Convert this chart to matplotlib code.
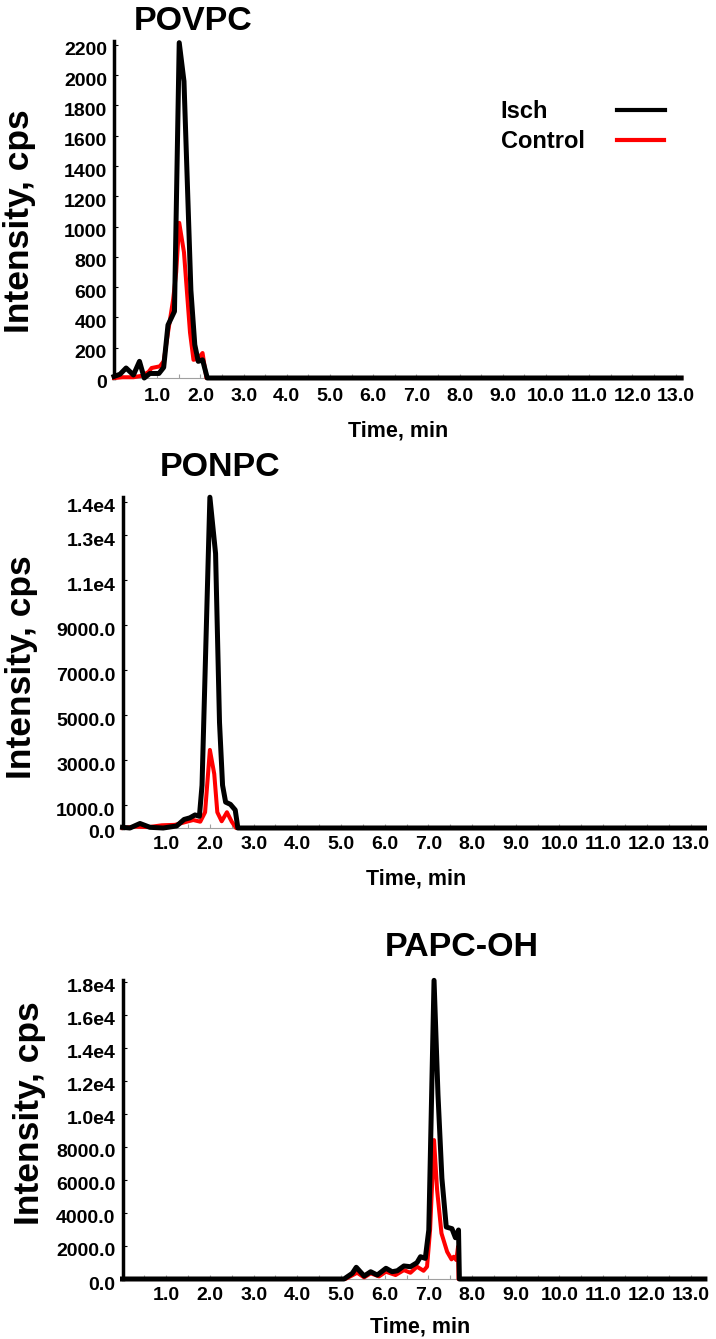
import matplotlib
matplotlib.use("Agg")
import matplotlib.pyplot as plt
from matplotlib.lines import Line2D
from matplotlib.ticker import MultipleLocator
from matplotlib.transforms import ScaledTranslation

plt.rcParams["font.family"] = ["Liberation Sans", "DejaVu Sans"]
plt.rcParams["font.weight"] = "bold"

# ---------------- data ----------------
titles = ["POVPC", "PONPC", "PAPC-OH"]
series_names = ["Isch", "Control"]
series_colors = ["#000000", "#ff0000"]

# POVPC
povpc_isch_t = [0.00, 0.14, 0.28, 0.45, 0.59, 0.70, 0.83, 1.04, 1.15, 1.25, 1.40, 1.51,
                1.62, 1.78, 1.87, 1.95, 2.05, 2.16, 13.13]
povpc_isch_i = [10, 25, 66, 20, 110, 0, 30, 30, 70, 350, 440, 2215,
                1960, 580, 220, 110, 120, 0, 0]
povpc_ctrl_t = [0.00, 0.20, 0.45, 0.65, 0.80, 0.87, 1.06, 1.15, 1.25, 1.37, 1.44, 1.51,
                1.62, 1.76, 1.84, 1.95, 2.05, 2.14, 13.13]
povpc_ctrl_i = [0, 5, 5, 15, 40, 66, 77, 110, 300, 520, 700, 1025,
                830, 300, 120, 130, 165, 0, 0]

# PONPC
ponpc_isch_t = [0.00, 0.17, 0.40, 0.63, 0.93, 1.24, 1.41, 1.54, 1.66, 1.76, 1.82, 2.00,
                2.13, 2.22, 2.29, 2.36, 2.47, 2.58, 2.64, 13.32]
ponpc_isch_i = [30, 0, 200, 30, 0, 90, 380, 450, 580, 520, 1900, 14700,
                12200, 4700, 1900, 1150, 1050, 800, 0, 0]
ponpc_ctrl_t = [0.00, 0.30, 0.60, 0.90, 1.20, 1.47, 1.62, 1.78, 1.89, 2.00, 2.10, 2.17,
                2.27, 2.39, 2.50, 2.60, 13.32]
ponpc_ctrl_i = [0, 60, 40, 120, 140, 280, 355, 280, 700, 3470, 2400, 700,
                300, 700, 280, 0, 0]

# PAPC-OH
papc_isch_t = [0.00, 5.07, 5.26, 5.35, 5.53, 5.68, 5.83, 6.03, 6.17, 6.29, 6.44, 6.59,
               6.74, 6.82, 6.93, 7.01, 7.13, 7.22, 7.31, 7.41, 7.54, 7.62, 7.69, 7.71, 13.33]
papc_isch_i = [0, 0, 345, 710, 180, 440, 240, 650, 440, 500, 790, 745,
               990, 1350, 1250, 2970, 18100, 11200, 6100, 3150, 3050, 2500, 2970, 0, 0]
papc_ctrl_t = [0.00, 5.10, 5.37, 5.53, 5.68, 5.87, 6.03, 6.25, 6.44, 6.59, 6.74, 6.89,
               6.97, 7.04, 7.13, 7.20, 7.30, 7.43, 7.53, 7.58, 7.64, 7.68, 7.69, 13.33]
papc_ctrl_i = [0, 0, 380, 100, 345, 160, 440, 240, 540, 380, 745, 500,
               745, 3000, 8420, 5400, 2770, 1650, 1190, 1350, 1150, 1960, 0, 0]

time_ticks = [1.0, 2.0, 3.0, 4.0, 5.0, 6.0, 7.0, 8.0, 9.0, 10.0, 11.0, 12.0, 13.0]
time_labels = ["1.0", "2.0", "3.0", "4.0", "5.0", "6.0", "7.0", "8.0", "9.0",
               "10.0", "11.0", "12.0", "13.0"]

povpc_yticks = [0, 200, 400, 600, 800, 1000, 1200, 1400, 1600, 1800, 2000, 2200]
povpc_ylabels = ["0", "200", "400", "600", "800", "1000", "1200", "1400", "1600",
                 "1800", "2000", "2200"]
ponpc_yticks = [0, 1000, 3000, 5000, 7000, 9000, 11000, 13000, 14500]
ponpc_ylabels = ["0.0", "1000.0", "3000.0", "5000.0", "7000.0", "9000.0", "1.1e4",
                 "1.3e4", "1.4e4"]
papc_yticks = [0, 2000, 4000, 6000, 8000, 10000, 12000, 14000, 16000, 18000]
papc_ylabels = ["0.0", "2000.0", "4000.0", "6000.0", "8000.0", "1.0e4", "1.2e4",
                "1.4e4", "1.6e4", "1.8e4"]

# ---------------- layout ----------------
W, H, DPI = 716, 1339, 100
fig = plt.figure(figsize=(W / DPI, H / DPI), dpi=DPI)
fig.patch.set_facecolor("white")

panels = [
    dict(box=(114, 682, 41, 378), xmax=13.15, ymax=2226,
         isch=(povpc_isch_t, povpc_isch_i), ctrl=(povpc_ctrl_t, povpc_ctrl_i),
         yt=povpc_yticks, yl=povpc_ylabels, title_xy=(193, 30),
         ylab_xy=(20, 221), xlab_xy=(398, 437), xpad=7),
    dict(box=(122.5, 704.5, 497, 828), xmax=13.32, ymax=14710,
         isch=(ponpc_isch_t, ponpc_isch_i), ctrl=(ponpc_ctrl_t, ponpc_ctrl_i),
         yt=ponpc_yticks, yl=ponpc_ylabels, title_xy=(220, 476),
         ylab_xy=(22, 667), xlab_xy=(416, 885), xpad=5.5),
    dict(box=(122.5, 704.5, 980, 1279), xmax=13.32, ymax=18120,
         isch=(papc_isch_t, papc_isch_i), ctrl=(papc_ctrl_t, papc_ctrl_i),
         yt=papc_yticks, yl=papc_ylabels, title_xy=(462, 956),
         ylab_xy=(30, 1113), xlab_xy=(420, 1332), xpad=5.5),
]

shift = ScaledTranslation(0, -0.04, fig.dpi_scale_trans)

for title, p in zip(titles, panels):
    l, r, t, b = p["box"]
    ax = fig.add_axes([l / W, 1 - b / H, (r - l) / W, (b - t) / H])
    ax.plot(p["ctrl"][0], p["ctrl"][1], color=series_colors[1], lw=2.9,
            clip_on=False, zorder=3)
    ax.plot(p["isch"][0], p["isch"][1], color=series_colors[0], lw=3.6,
            clip_on=False, zorder=4)
    ax.set_xlim(0, p["xmax"])
    ax.set_ylim(0, p["ymax"])
    for s in ("top", "right"):
        ax.spines[s].set_visible(False)
    ax.spines["left"].set_linewidth(2.5)
    ax.spines["left"].set_color("black")
    ax.spines["bottom"].set_linewidth(0.8)
    ax.spines["bottom"].set_color("#a0a0a0")

    ax.set_xticks(time_ticks, time_labels)
    ax.xaxis.set_minor_locator(MultipleLocator(0.5))
    ax.tick_params(axis="x", which="both", direction="in", length=3, width=0.8,
                   color="#a0a0a0", labelcolor="black", labelsize=14, pad=p["xpad"])
    ax.set_yticks(p["yt"], p["yl"])
    ax.tick_params(axis="y", direction="in", length=3, width=0.8, color="black",
                   labelsize=14, pad=5)
    for lab in ax.get_xticklabels() + ax.get_yticklabels():
        lab.set_fontweight("bold")
    for lab in ax.get_yticklabels():
        lab.set_transform(lab.get_transform() + shift)

    tx, ty = p["title_xy"]
    fig.text(tx / W, 1 - ty / H, title, fontsize=24.5, fontweight="bold",
             ha="center", va="baseline")
    yx, yy = p["ylab_xy"]
    fig.text(yx / W, 1 - yy / H, "Intensity, cps", fontsize=25.5, fontweight="bold",
             rotation=90, ha="center", va="center")
    xx, xy = p["xlab_xy"]
    fig.text(xx / W, 1 - xy / H, "Time, min", fontsize=15.5, fontweight="bold",
             ha="center", va="baseline")

# legend (text left, line right)
pads = [2.93, 1.37]
ys = [112, 142]
for name, col, pad, y in zip(series_names, series_colors, pads, ys):
    handle = Line2D([], [], color=col, lw=3)
    fig.legend([handle], [name], loc="center left",
               bbox_to_anchor=(500.7 / W, 1 - y / H), bbox_transform=fig.transFigure,
               frameon=False, markerfirst=False, borderpad=0, borderaxespad=0,
               handlelength=2.0, handletextpad=pad,
               prop=dict(family=["Liberation Sans", "DejaVu Sans"], weight="bold", size=17))

fig.savefig("out.png", dpi=DPI, facecolor="white")
